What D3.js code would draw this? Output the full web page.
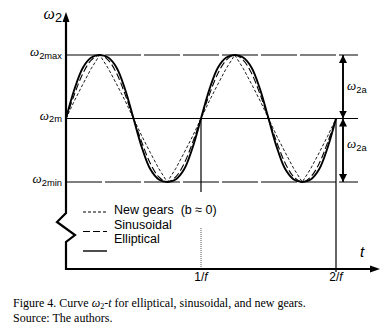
<!DOCTYPE html>
<head>
  <meta charset="utf-8">
  <script src="https://d3js.org/d3.v7.min.js"></script>
  <style>
body { margin:0; background:#fff; }
text { font-family: Arial, "Liberation Sans", sans-serif; fill:#000; white-space: pre; }
.cap { font-family: "Liberation Serif", "Times New Roman", serif; font-size: 12px; }
.om { font-family: "Liberation Serif", serif; font-style: italic; }
  </style>
</head>
<body>
<script>
// time samples in units of 1/f (16 per period)
const tSamples = d3.range(33).map(i => i / 16)
// normalized omega2 (-1 = min, 0 = mean, 1 = max)
const sinusoidal = [0, .38, .71, .92, 1, .92, .71, .38, 0, -.38, -.71, -.92, -1, -.92, -.71, -.38,
  0, .38, .71, .92, 1, .92, .71, .38, 0, -.38, -.71, -.92, -1, -.92, -.71, -.38, 0]
const elliptical = [0, .46, .80, .96, 1, .96, .80, .46, 0, -.46, -.80, -.96, -1, -.96, -.80, -.46,
  0, .46, .80, .96, 1, .96, .80, .46, 0, -.46, -.80, -.96, -1, -.96, -.80, -.46, 0]
const newGears = [0, .28, .54, .79, 1, .79, .54, .28, 0, -.28, -.54, -.79, -1, -.79, -.54, -.28,
  0, .28, .54, .79, 1, .79, .54, .28, 0, -.28, -.54, -.79, -1, -.79, -.54, -.28, 0]
const levels = [{ v: 1, sub: '2max', dash: '36,3' }, { v: 0, sub: '2m', dash: null }, { v: -1, sub: '2min', dash: '36,3' }]
const ticks = [{ t: 1, n: '1/' }, { t: 2, n: '2/' }]
const legendItems = [
  { name: 'New gears  (b \u2248 0)', dash: '3,2', w: 1 },
  { name: 'Sinusoidal', dash: '7,3', w: 1.1 },
  { name: 'Elliptical', dash: null, w: 1.4 }
]

const W = 383, H = 330
const x = d3.scaleLinear().domain([0, 2]).range([66, 336])
const y = d3.scaleLinear().domain([-1, 1]).range([182, 55])
const x0 = 66, yAxisBottom = 269

const svg = d3.select('body').append('svg').attr('width', W).attr('height', H)

const defs = svg.append('defs')
defs.append('marker').attr('id', 'ah').attr('viewBox', '0 0 10 10').attr('refX', 10).attr('refY', 5)
  .attr('markerWidth', 8).attr('markerHeight', 8).attr('markerUnits', 'userSpaceOnUse').attr('orient', 'auto')
  .append('path').attr('d', 'M0,0L10,5L0,10Z').attr('fill', '#000')

// level lines
svg.selectAll('.lvl').data(levels).enter().append('line')
  .attr('x1', x0).attr('x2', 358)
  .attr('y1', d => y(d.v)).attr('y2', d => y(d.v))
  .attr('stroke', '#000').attr('stroke-width', 1.2)
  .attr('stroke-dasharray', d => d.dash)

// vertical at 1/f and 2/f
svg.append('line').attr('x1', x(1)).attr('x2', x(1)).attr('y1', y(0)).attr('y2', 192)
  .attr('stroke', '#000').attr('stroke-width', 1.2)
svg.append('line').attr('x1', x(1)).attr('x2', x(1)).attr('y1', 228).attr('y2', yAxisBottom)
  .attr('stroke', '#888').attr('stroke-width', 1.4).attr('stroke-dasharray', '1,1')
svg.append('line').attr('x1', x(2)).attr('x2', x(2)).attr('y1', y(0)).attr('y2', yAxisBottom + 3)
  .attr('stroke', '#000').attr('stroke-width', 1.2)

// curves
const line = d3.line().x((d, i) => x(tSamples[i])).y(d => y(d))
svg.append('path').datum(elliptical).attr('d', line.curve(d3.curveCatmullRom))
  .attr('fill', 'none').attr('stroke', '#000').attr('stroke-width', 1.9)
svg.append('path').datum(sinusoidal).attr('d', line.curve(d3.curveCatmullRom))
  .attr('fill', 'none').attr('stroke', '#000').attr('stroke-width', 1.1).attr('stroke-dasharray', '7,3')
svg.append('path').datum(newGears).attr('d', line.curve(d3.curveLinear))
  .attr('fill', 'none').attr('stroke', '#000').attr('stroke-width', 0.9).attr('stroke-dasharray', '3,2')

// amplitude arrows
const ax = 343
const arrows = [[y(0) - 8, y(1)], [y(1) + 8, y(0)], [y(-1) - 8, y(0)], [y(0) + 8, y(-1)]]
svg.selectAll('.arr').data(arrows).enter().append('line')
  .attr('x1', ax).attr('x2', ax).attr('y1', d => d[0]).attr('y2', d => d[1])
  .attr('stroke', '#000').attr('stroke-width', 1.6).attr('marker-end', 'url(#ah)')

function omega(sel, sub, fs, subScale) {
  sel.append('tspan').attr('class', 'om').attr('font-size', fs).text('\u03c9')
  sel.append('tspan').attr('font-size', fs * (subScale || 0.72)).attr('dy', fs * 0.2).text(sub)
}
const a1 = svg.append('text').attr('x', 347).attr('y', 90); omega(a1, '2a', 13)
const a2 = svg.append('text').attr('x', 347).attr('y', 148); omega(a2, '2a', 13)

// axes
svg.append('path')
  .attr('d', `M${x0},20V213L57,222L75,235L${x0},242V${yAxisBottom}H372`)
  .attr('fill', 'none').attr('stroke', '#000').attr('stroke-width', 2.2)
svg.append('path').attr('d', `M${x0 - 3.5},22L${x0},12L${x0 + 3.5},22Z`).attr('fill', '#000')
svg.append('path').attr('d', `M370,${yAxisBottom - 3.5}L380,${yAxisBottom}L370,${yAxisBottom + 3.5}Z`).attr('fill', '#000')

// y labels
const yl = svg.append('text').attr('x', 62).attr('y', 19).attr('text-anchor', 'end'); omega(yl, '2', 16, 0.8)
svg.selectAll('.ylab').data(levels).enter().append('text')
  .attr('x', 62).attr('y', d => y(d.v) + 1).attr('text-anchor', 'end')
  .each(function (d) { omega(d3.select(this), d.sub, 13) })

// x labels
svg.selectAll('.xlab').data(ticks).enter().append('text')
  .attr('x', d => x(d.t)).attr('y', 281).attr('text-anchor', 'middle')
  .attr('font-size', 12)
  .each(function (d) {
    d3.select(this).append('tspan').text(d.n)
    d3.select(this).append('tspan').attr('font-style', 'italic').text('f')
  })
svg.append('text').attr('x', 360).attr('y', 257).attr('font-size', 15).attr('font-style', 'italic').text('t')

// legend
const lg = svg.selectAll('.lg').data(legendItems).enter().append('g')
lg.append('line').attr('x1', 83).attr('x2', 107)
  .attr('y1', (d, i) => 212 + i * 19.5).attr('y2', (d, i) => 212 + i * 19.5)
  .attr('stroke', '#000').attr('stroke-width', d => d.w).attr('stroke-dasharray', d => d.dash)
lg.append('text').attr('x', 114).attr('y', (d, i) => 214 + i * 14.5)
  .attr('font-size', 12.5).text(d => d.name)

// caption
const cap = svg.append('text').attr('class', 'cap').attr('x', 13).attr('y', 307)
cap.append('tspan').text('Figure 4. Curve ')
cap.append('tspan').attr('font-style', 'italic').text('\u03c9')
cap.append('tspan').attr('font-size', 8).attr('dy', 2).text('2')
cap.append('tspan').attr('dy', -2).text('-')
cap.append('tspan').attr('font-style', 'italic').text('t')
cap.append('tspan').text(' for elliptical, sinusoidal, and new gears.')
svg.append('text').attr('class', 'cap').attr('x', 13).attr('y', 322).text('Source: The authors.')
</script>
</body>
